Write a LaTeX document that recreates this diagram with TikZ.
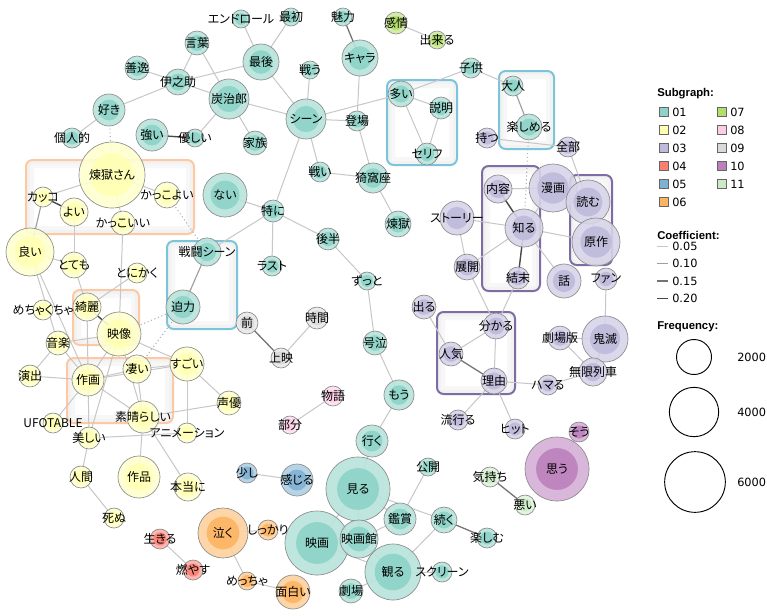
\documentclass[tikz,border=0pt]{standalone}
\usepackage{fontspec}
\setmainfont{Noto Sans CJK JP}[RawFeature={+palt}]
\newfontfamily\legfont{DejaVu Sans}
\newfontfamily\legtitle{Liberation Sans}
\definecolor{c01}{HTML}{8DD3C7}
\definecolor{c02}{HTML}{FFFFB3}
\definecolor{c03}{HTML}{BEBADA}
\definecolor{c04}{HTML}{FB8072}
\definecolor{c05}{HTML}{80B1D3}
\definecolor{c06}{HTML}{FDB462}
\definecolor{c07}{HTML}{B3DE69}
\definecolor{c08}{HTML}{FCCDE5}
\definecolor{c09}{HTML}{D9D9D9}
\definecolor{c10}{HTML}{BC80BD}
\definecolor{c11}{HTML}{CCEBC5}
\definecolor{bcyan}{HTML}{7CC4DA}
\definecolor{borange}{HTML}{FDC8A2}
\definecolor{bpurple}{HTML}{7E6CA4}
\tikzset{
 eA/.style={draw=black!22, line width=0.75pt},
 eB/.style={draw=black!38, line width=0.85pt},
 eC/.style={draw=black!55, line width=0.95pt},
 eD/.style={draw=black!72, line width=1.05pt},
 eDot/.style={draw=black!30, line width=0.8pt, dotted},
 lbl/.style={inner sep=0pt, font=\fontsize{9}{10}\selectfont},
 legtxt/.style={anchor=west, inner sep=0pt, font=\legfont\fontsize{8.5}{10}\selectfont},
 legttl/.style={anchor=west, inner sep=0pt, font=\legtitle\bfseries\fontsize{8.5}{10}\selectfont},
}
\newcommand\grpbox[3]{%
 \begin{scope}
 \clip[rounded corners=5pt] #1 rectangle #2;
 \draw[black!3, line width=12pt, rounded corners=5pt] #1 rectangle #2;
 \draw[black!5, line width=6pt, rounded corners=5pt] #1 rectangle #2;
 \end{scope}
 \draw[#3, line width=1.5pt, rounded corners=5pt] #1 rectangle #2;}
\def\nodelist{%
endroll/241/19/9/c01/エンドロール,%
saisho/291/17/9/c01/最初,%
miryoku/343/17/9/c01/魅力,%
kotoba/197/43/12/c01/言葉,%
saigo/261/62/18/c01/最後,%
zenitsu/137/68/12/c01/善逸,%
inosuke/178/82/13/c01/伊之助,%
suki/109/110/16/c01/好き,%
tanjiro/229/99/20/c01/炭治郎,%
kojin/72/138/10/c01/個人的,%
tsuyoi/152/135/16/c01/強い,%
yasashii/195/138/9/c01/優しい,%
kazoku/255/143/12/c01/家族,%
chara/360/58/18/c01/キャラ,%
tatakau/310/70/9/c01/戦う,%
scene/306/119/20/c01/シーン,%
toujou/357/121/10/c01/登場,%
ooi/401/94/13/c01/多い,%
setsumei/441/108/11/c01/説明,%
serifu/427/154/11/c01/セリフ,%
kodomo/471/68/10/c01/子供,%
otona/513/86/10/c01/大人,%
tanoshimeru/529/127/13/c01/楽しめる,%
tatakai/320/172/10/c01/戦い,%
akaza/373/178/15/c01/猗窩座,%
rengoku/398/224/13/c01/煉獄,%
nai/225/195/22/c01/ない,%
tokuni/273/211/11/c01/特に,%
kouhan/328/239/11/c01/後半,%
last/272/266/10/c01/ラスト,%
zutto/367/281/9/c01/ずっと,%
goukyuu/375/343/12/c01/号泣,%
mou/399/395/15/c01/もう,%
sentou/207/252/14/c01/戦闘シーン,%
hakuryoku/183/307/17/c01/迫力,%
iku/372/441/16/c01/行く,%
miru/358/489/32/c01/見る,%
koukai/428/467/9/c01/公開,%
kanshou/400/519/16/c01/鑑賞,%
tsuzuku/444/520/13/c01/続く,%
tanoshimu/487/538/10/c01/楽しむ,%
eiga/317/543/32/c01/映画,%
eigakan/359/539/19/c01/映画館,%
miru2/393/572/28/c01/観る,%
screen/442/572/10/c01/スクリーン,%
gekijou/351/591/12/c01/劇場,%
rengokusan/112/175/33/c02/煉獄さん,%
kakko/43/197/10/c02/カッコ,%
kakkoyoi/167/195/13/c02/かっこよい,%
yoi/74/212/14/c02/よい,%
kakkoii/123/223/12/c02/かっこいい,%
ii/30/252/24/c02/良い,%
totemo/74/265/13/c02/とても,%
tonikaku/137/273/10/c02/とにかく,%
mechakucha/43/310/10/c02/めちゃくちゃ,%
kirei/87/307/14/c02/綺麗,%
eizou/119/334/22/c02/映像,%
ongaku/58/343/12/c02/音楽,%
enshutsu/30/376/11/c02/演出,%
sakuga/88/380/16/c02/作画,%
sugoi1/137/369/14/c02/凄い,%
sugoi/187/364/17/c02/すごい,%
seiyuu/229/403/12/c02/声優,%
subarashii/143/417/16/c02/素晴らしい,%
ufotable/53/423/10/c02/UFOTABLE,%
utsukushii/89/438/11/c02/美しい,%
anime/187/433/10/c02/アニメーション,%
ningen/81/477/11/c02/人間,%
sakuhin/139/477/21/c02/作品,%
hontou/188/487/14/c02/本当に,%
shinu/114/518/10/c02/死ぬ,%
motsu/487/138/10/c03/持つ,%
zenbu/568/147/10/c03/全部,%
naiyou/498/189/14/c03/内容,%
manga/553/188/24/c03/漫画,%
yomu/588/202/22/c03/読む,%
gensaku/596/242/24/c03/原作,%
shiru/524/228/19/c03/知る,%
story/457/218/17/c03/ストーリー,%
tenkai/467/267/13/c03/展開,%
ketsumatsu/518/278/11/c03/結末,%
hanashi/564/281/17/c03/話,%
fan/606/279/11/c03/ファン,%
deru/424/307/12/c03/出る,%
wakaru/496/326/13/c03/分かる,%
ninki/451/354/12/c03/人気,%
riyuu/494/381/13/c03/理由,%
gekijouban/560/338/12/c03/劇場版,%
kimetsu/605/339/23/c03/鬼滅,%
mugen/593/372/14/c03/無限列車,%
hamaru/548/385/10/c03/ハマる,%
hayaru/458/420/10/c03/流行る,%
hit/515/429/10/c03/ヒット,%
ikiru/160/539/10/c04/生きる,%
moyasu/193/570/10/c04/燃やす,%
sukoshi/247/473/10/c05/少し,%
kanjiru/297/480/16/c05/感じる,%
naku/223/533/25/c06/泣く,%
shikkari/268/530/10/c06/しっかり,%
meccha/247/581/9/c06/めっちゃ,%
omoshiroi/293/592/17/c06/面白い,%
kanjou/396/23/11/c07/感情,%
dekiru/437/40/9/c07/出来る,%
monogatari/333/396/10/c08/物語,%
bubun/290/425/9/c08/部分,%
mae/247/323/11/c09/前,%
jikan/317/318/11/c09/時間,%
joue/281/358/10/c09/上映,%
omou/557/469/32/c10/思う,%
sou/579/432/10/c10/そう,%
kimochi/490/477/10/c11/気持ち,%
warui/525/505/10/c11/悪い}
\begin{document}
\begin{tikzpicture}[x=0.75pt,y=-0.75pt]
\useasboundingbox (0,0) rectangle (767,615);
\fill[white] (0,0) rectangle (767,615);
% group boxes
\grpbox{(387,80)}{(457,165)}{bcyan}
\grpbox{(499,71)}{(554,149)}{bcyan}
\grpbox{(167,241)}{(237,329)}{bcyan}
\grpbox{(26,160)}{(194,234)}{borange}
\grpbox{(73,290)}{(139,345)}{borange}
\grpbox{(67,358)}{(173,423)}{borange}
\grpbox{(482,166)}{(540,291)}{bpurple}
\grpbox{(570,175)}{(612,265)}{bpurple}
\grpbox{(437,312)}{(515,394)}{bpurple}
% coordinates
\foreach \nm/\px/\py/\rad/\col/\lab in \nodelist {\coordinate (\nm) at (\px,\py);}
% edges
\foreach \a/\b in {endroll/saigo, saisho/saigo, kotoba/inosuke, kotoba/tanjiro, zenitsu/inosuke, inosuke/tanjiro, inosuke/saigo, inosuke/suki, suki/kojin, tanjiro/scene, tanjiro/kazoku, tanjiro/yasashii, saigo/scene, chara/toujou, tatakau/scene, scene/toujou, scene/ooi, scene/tatakai, scene/tokuni, tatakai/akaza, toujou/akaza, akaza/rengoku, ooi/setsumei, ooi/serifu, setsumei/serifu, ooi/kodomo, kodomo/otona, motsu/zenbu, zenbu/yomu, kanjou/dekiru, nai/tokuni, tokuni/sentou, tokuni/last, tokuni/kouhan, kouhan/zutto, zutto/goukyuu, goukyuu/mou, mou/iku, iku/miru, miru/eiga, miru/eigakan, miru/kanshou, miru/tsuzuku, koukai/kanshou, tsuzuku/miru2, eiga/eigakan, eiga/miru2, eigakan/miru2, eigakan/kanshou, miru2/gekijou, miru2/screen, jikan/joue, monogatari/bubun, sukoshi/kanjiru, naku/shikkari, naku/meccha, meccha/omoshiroi, ikiru/moyasu, omou/sou}
  \draw[eA] (\a) -- (\b);
\foreach \a/\b in {rengokusan/kakko, rengokusan/kakkoyoi, rengokusan/kakkoii, yoi/totemo, ii/totemo, ii/ongaku, ii/sakuga, totemo/kirei, kakkoii/eizou, tonikaku/kirei, kirei/utsukushii, eizou/ongaku, eizou/sakuga, eizou/sugoi, eizou/subarashii, ongaku/enshutsu, ongaku/sakuga, enshutsu/sakuga, sakuga/sugoi1, sakuga/subarashii, sakuga/ufotable, sakuga/sugoi, sugoi1/subarashii, sugoi1/sugoi, sugoi/seiyuu, sugoi/anime, subarashii/seiyuu, subarashii/sakuhin, subarashii/hontou, utsukushii/anime, utsukushii/ningen, utsukushii/eizou, ningen/shinu}
  \draw[eA] (\a) -- (\b);
\foreach \a/\b in {naiyou/manga, shiru/manga, shiru/story, shiru/gensaku, shiru/tenkai, shiru/hanashi, manga/yomu, yomu/gensaku, story/tenkai, tenkai/wakaru, ketsumatsu/wakaru, wakaru/ninki, wakaru/riyuu, deru/ninki, riyuu/hamaru, riyuu/hayaru, riyuu/hit, hamaru/mugen, gekijouban/kimetsu, gekijouban/mugen, fan/kimetsu}
  \draw[eA] (\a) -- (\b);
\foreach \a/\b in {otona/tanoshimeru, kakko/ii, sentou/hakuryoku, kimetsu/mugen}
  \draw[eB] (\a) -- (\b);
\foreach \a/\b in {chara/miryoku, ninki/riyuu, tsuzuku/tanoshimu, kimochi/warui, mae/joue}
  \draw[eC] (\a) -- (\b);
\foreach \a/\b in {tsuyoi/yasashii, kakko/yoi, kirei/eizou, naiyou/shiru, shiru/ketsumatsu}
  \draw[eD] (\a) -- (\b);
\foreach \a/\b in {suki/rengokusan, tanoshimeru/shiru, kakkoyoi/sentou, hakuryoku/eizou, hakuryoku/sugoi1}
  \draw[eDot] (\a) -- (\b);
% nodes
\foreach \nm/\px/\py/\rad/\col/\lab in \nodelist {
  \fill[\col!62!white, fill opacity=0.9] (\nm) circle[radius=\rad*0.75pt];
  \fill[\col, fill opacity=0.9] (\nm) circle[radius=\rad*0.49pt];
  \draw[black!45, line width=0.5pt] (\nm) circle[radius=\rad*0.75pt];
  \node[lbl] (L\nm) at (\nm) {\lab};
}
% legend
\node[legttl] (tsub) at (657,94) {Subgraph:};
\foreach \c/\t/\xx/\yy in {c01/01/659/112, c02/02/659/130, c03/03/659/148, c04/04/659/166, c05/05/659/184, c06/06/659/202, c07/07/717/112, c08/08/717/130, c09/09/717/148, c10/10/717/166, c11/11/717/184} {
  \node[draw=black!60, fill=\c, minimum size=6.8pt, inner sep=0pt, line width=0.5pt] (sq\t) at (\xx+4.5,\yy) {};
  \node[legtxt] (lg\t) at (\xx+13,\yy) {\t};
}
\node[legttl] (tcoef) at (657,235) {Coefficient:};
\foreach \t/\yy/\st/\k in {0.05/246/eA/1, 0.10/263.5/eB/2, 0.15/281/eC/3, 0.20/298.5/eD/4} {
  \coordinate (ca\k) at (657,\yy);
  \coordinate (cb\k) at (668,\yy);
  \draw[\st] (ca\k) -- (cb\k);
  \node[legtxt] (cl\k) at (672,\yy) {\t};
}
\node[legttl] (tfreq) at (657,327) {Frequency:};
\node[circle, draw=black, line width=0.7pt, minimum size=26.25pt, inner sep=0pt] (f2) at (694,357) {};
\node[legtxt] (f2l) at (737,357) {2000};
\node[circle, draw=black, line width=0.7pt, minimum size=37pt, inner sep=0pt] (f4) at (694,412) {};
\node[legtxt] (f4l) at (737,412) {4000};
\node[circle, draw=black, line width=0.7pt, minimum size=45.5pt, inner sep=0pt] (f6) at (695,482) {};
\node[legtxt] (f6l) at (737,482) {6000};
\end{tikzpicture}
\end{document}
